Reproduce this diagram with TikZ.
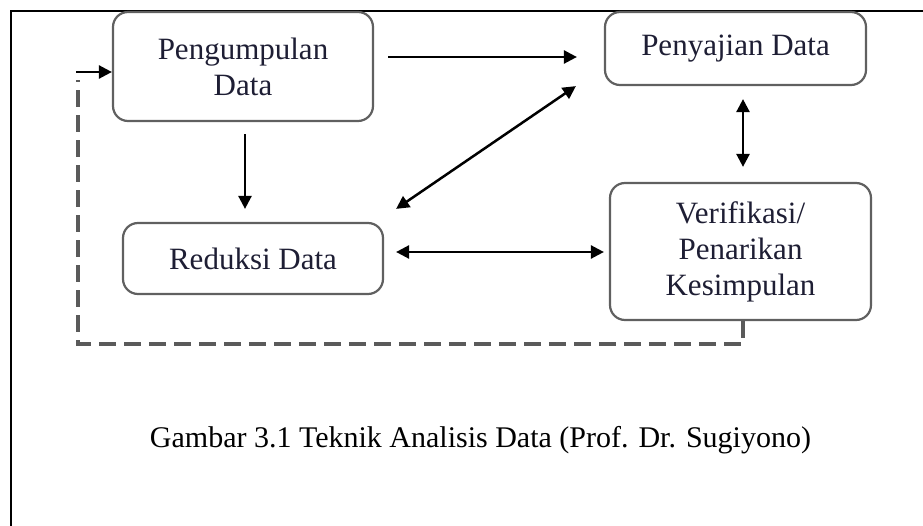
\documentclass[tikz,border=0pt]{standalone}
\usepackage{fontspec}
\setmainfont{Liberation Serif}
\usetikzlibrary{arrows.meta,calc}
\definecolor{boxline}{HTML}{606060}
\definecolor{dashcol}{HTML}{5A5A5A}
\definecolor{boxtext}{HTML}{1E1E34}
\tikzset{
  procbox/.style={draw=boxline, line width=2.2pt, rounded corners=15pt, inner sep=0pt,
    align=center, text=boxtext, font=\fontsize{31}{36}\selectfont},
  arr/.style={line width=2.5pt, -{Triangle[length=13pt,width=13pt]}},
  darr/.style={line width=2.5pt, {Triangle[length=13pt,width=13pt]}-{Triangle[length=13pt,width=13pt]}},
  fb/.style={line width=3.5pt, dashcol, dash pattern=on 17pt off 8pt},
  frame/.style={line width=2.5pt, black}
}
\begin{document}
\begin{tikzpicture}[x=1pt,y=-1pt]
\useasboundingbox (0,0) rectangle (923,526);
\draw[frame] (11,526) -- (11,11) -- (923,11);

\node[procbox, minimum width=260pt, minimum height=109pt] (peng) at (243,66.5) {Pengumpulan\\Data};
\node[procbox, minimum width=261pt, minimum height=73pt] (peny) at (735.5,48.5) {Penyajian Data};
\node[procbox, minimum width=261pt, minimum height=137pt] (verif) at (740.5,251.5) {Verifikasi/\\Penarikan\\Kesimpulan};
\node[procbox, minimum width=260pt, minimum height=71pt] (red) at (253,258.5) {Reduksi Data};

\draw[arr] ($(peng.east)+(14,-9.5)$) -- ($(peny.west)+(-27,8.5)$);
\draw[arr] ($(peng.south)+(2,12)$) -- ($(red.north)+(-8,-13)$);
\draw[darr] ($(red.north east)+(12,-13)$) -- ($(peny.south west)+(-28,0)$);
\draw[darr] ($(red.east)+(12,-6.5)$) -- ($(verif.west)+(-5,0.5)$);
\draw[darr] ($(peny.south)+(7.5,13)$) -- ($(verif.north)+(2.5,-15)$);

\coordinate (c1) at (78,344);
\coordinate (c2) at (78,80);
\coordinate (c3) at (76,72);
\draw[fb] ($(verif.south)+(2.5,0)$) |- (c1) -- (c2);
\draw[arr] (c3) -- ($(peng.west)+(0,5.5)$);

\node[font=\fontsize{30}{36}\selectfont] (cap) at (480.5,440) {Gambar 3.1 Teknik Analisis Data (Prof. Dr. Sugiyono)};
\end{tikzpicture}
\end{document}
